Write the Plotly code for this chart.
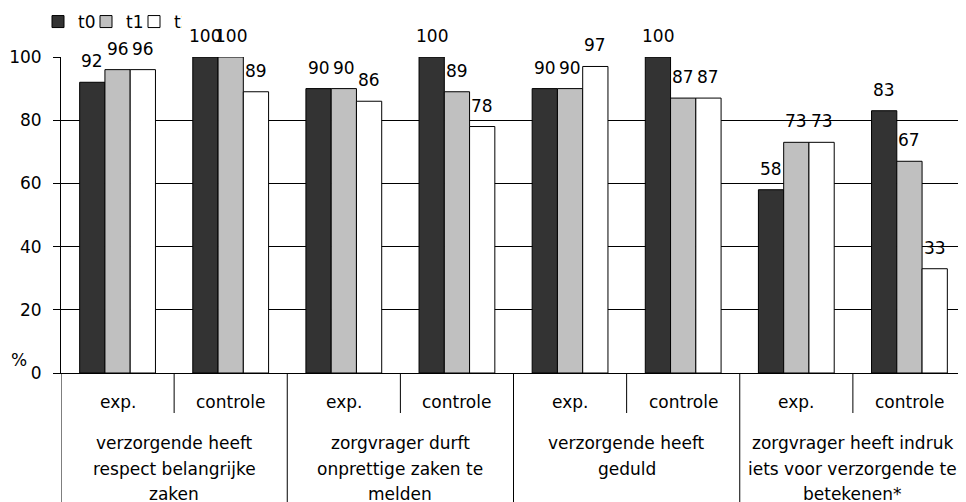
import plotly.graph_objects as go

# ---- data ----
series_names = ["t0", "t1", "t2"]
t0 = [92, 100, 90, 100, 90, 100, 58, 83]
t1 = [96, 100, 90, 89, 90, 87, 73, 67]
t2 = [96, 89, 86, 78, 97, 87, 73, 33]
subgroups = ["exp.", "controle", "exp.", "controle", "exp.", "controle", "exp.", "controle"]
topics = [
    ["verzorgende heeft", "respect belangrijke", "zaken"],
    ["zorgvrager durft", "onprettige zaken te", "melden"],
    ["verzorgende heeft", "geduld"],
    ["zorgvrager heeft indruk", "iets voor verzorgende te", "betekenen*"],
]
y_ticks = [0, 20, 40, 60, 80, 100]
colors = ["#333333", "#C0C0C0", "#FFFFFF"]

FONT = "DejaVu Sans, Liberation Sans, Arial, sans-serif"
FS = 17

# the page body has an 8px default margin: size the figure so the
# plot lands on the same screen pixels as the reference
OFF = 8
SW, SH = 966, 502                      # screen size
W, H = SW - OFF, SH - OFF              # figure size
X_LEFT, X_RIGHT = 61, 966              # plot area on screen
Y_TOP, Y_BOT = 57, 373
ML, MR = X_LEFT - OFF, SW - X_RIGHT
MT, MB = Y_TOP - OFF, SH - Y_BOT
PH = Y_BOT - Y_TOP
PW = X_RIGHT - X_LEFT

def py(pix):
    # screen pixel row -> paper y
    return (Y_BOT - pix) / PH

def px(pix):
    # screen pixel column -> paper x
    return (pix - X_LEFT) / PW

xs = list(range(len(subgroups)))
BARGAP = 0.33
bw = (1 - BARGAP) / 3

fig = go.Figure()
for name, vals, col in zip(series_names, [t0, t1, t2], colors):
    fig.add_trace(go.Bar(
        x=xs, y=vals, name=name,
        marker=dict(color=col, line=dict(color="black", width=1)),
        hoverinfo="y",
    ))

annotations = []
# value labels above bars
for j, vals in enumerate([t0, t1, t2]):
    for i, v in enumerate(vals):
        annotations.append(dict(
            x=i + (j - 1) * bw, y=v, xref="x", yref="y",
            text=str(v), showarrow=False, yanchor="bottom", yshift=9,
            font=dict(family=FONT, size=FS, color="black"),
        ))

# sub group row
for i, s in enumerate(subgroups):
    annotations.append(dict(
        x=i, y=py(402), xref="x", yref="paper", text=s, showarrow=False,
        yanchor="middle", font=dict(family=FONT, size=FS, color="black"),
    ))

# topic rows
line_centers = [443, 469, 494]
for k, lines in enumerate(topics):
    for li, ln in enumerate(lines):
        annotations.append(dict(
            x=2 * k + 0.5, y=py(line_centers[li]), xref="x", yref="paper",
            text=ln, showarrow=False, yanchor="middle",
            font=dict(family=FONT, size=FS, color="black"),
        ))

# % label
annotations.append(dict(
    x=px(18.5), y=py(360), xref="paper", yref="paper",
    text="%", showarrow=False, xanchor="center", yanchor="middle",
    font=dict(family=FONT, size=FS, color="black"),
))

shapes = []
for k in range(4):
    xm = 2 * k - 0.5
    shapes.append(dict(type="line", xref="x", yref="paper", x0=xm, x1=xm,
                       y0=0, y1=py(SH), line=dict(color="black", width=1)))
    xn = 2 * k + 0.5
    shapes.append(dict(type="line", xref="x", yref="paper", x0=xn, x1=xn,
                       y0=0, y1=py(413), line=dict(color="black", width=1)))

fig.update_layout(
    width=W, height=H,
    margin=dict(l=ML, r=MR, t=MT, b=MB, autoexpand=False),
    paper_bgcolor="white", plot_bgcolor="white",
    barmode="group", bargap=BARGAP, bargroupgap=0,
    font=dict(family=FONT, size=FS, color="black"),
    showlegend=True,
    legend=dict(orientation="h", xref="container", yref="container",
                x=30 / W, y=1 - 14 / H, xanchor="left", yanchor="middle",
                font=dict(family=FONT, size=FS, color="black"),
                itemwidth=30, entrywidth=3, entrywidthmode="pixels",
                bgcolor="rgba(0,0,0,0)", tracegroupgap=0),
    xaxis=dict(range=[-0.5, 7.5], showticklabels=False, showgrid=False,
               zeroline=False, showline=True, linecolor="black", linewidth=1,
               ticks="", fixedrange=True),
    yaxis=dict(range=[0, 100], tickvals=y_ticks, showgrid=True, gridcolor="black",
               gridwidth=1, zeroline=False, showline=True, linecolor="black",
               linewidth=1, ticks="outside", ticklen=7, tickcolor="black",
               ticklabelstandoff=8, tickfont=dict(family=FONT, size=FS, color="black"),
               fixedrange=True),
    annotations=annotations,
    shapes=shapes,
)

fig.write_html("out.html")
